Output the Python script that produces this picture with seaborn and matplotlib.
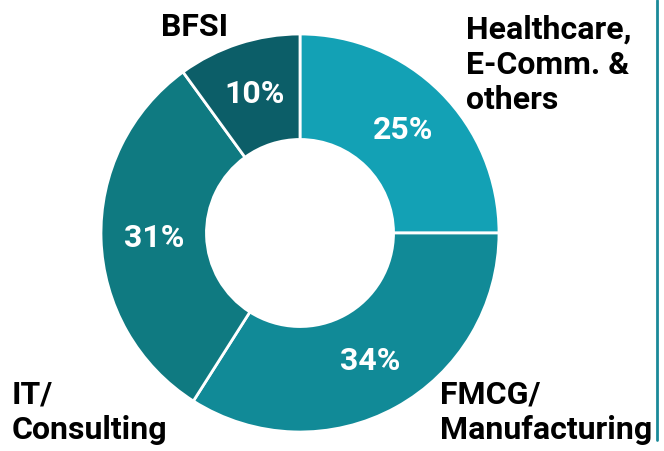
import matplotlib.pyplot as plt
import seaborn as sns

# Sector split (clockwise from the top)
sectors = ["Healthcare,\nE-Comm. &\nothers", "FMCG/\nManufacturing", "IT/\nConsulting", "BFSI"]
shares = [25, 34, 31, 10]
colors = ["#13a1b5", "#118a97", "#0f7a81", "#0c5e68"]

sns.set_theme(style="white")
plt.rcParams['font.family'] = ['Roboto', 'DejaVu Sans']

fig = plt.figure(figsize=(6.64, 4.51), dpi=100)
# pie centred at (300, 233) px, radius ~199 px
ax = fig.add_axes([101 / 664, 19 / 451, 398 / 664, 398 / 451])

wedges, texts, autotexts = ax.pie(
    shares, colors=colors, startangle=90, counterclock=False,
    radius=1, autopct='%d%%', pctdistance=0.735,
    wedgeprops=dict(width=0.53, edgecolor='white', linewidth=2),
    textprops=dict(color='white', fontsize=23, fontweight='bold'))
ax.set_xlim(-1, 1)
ax.set_ylim(-1, 1)
ax.set_aspect('equal')
ax.axis('off')

# outside category labels (figure pixel positions)
label_pos = [(466, 15, 'left'), (440, 380, 'left'), (12, 380, 'left'), (195, 12, 'center')]
for name, (px, py, ha) in zip(sectors, label_pos):
    fig.text(px / 664, 1 - py / 451, name, ha=ha, va='top', fontsize=23,
             fontweight='bold', color='black', linespacing=1.2)

# thin teal rule at right edge
fig.add_artist(plt.Line2D([657 / 664, 657 / 664], [1 - 440 / 451, 1], color='#1a8a99',
                          linewidth=2, transform=fig.transFigure))

fig.savefig('out.png', dpi=100)
